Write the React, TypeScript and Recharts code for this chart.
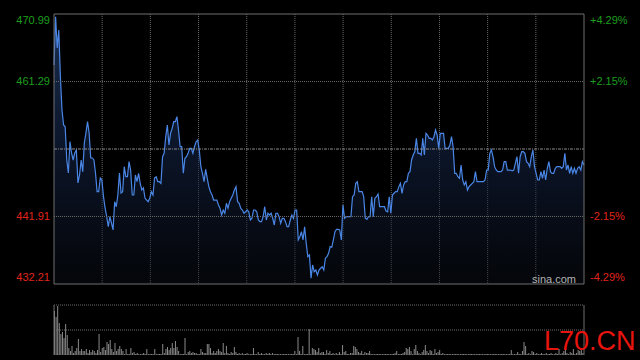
import React from 'react';
import {
  ComposedChart,
  Area,
  XAxis,
  YAxis,
  CartesianGrid,
  ReferenceLine,
  BarChart,
  Bar,
} from 'recharts';

// ---- data ----
const prevClose = 451.6;
const priceTicks = [432.21, 441.91, 461.29, 470.99];
const pctLabels = ['-4.29%', '-2.15%', '+2.15%', '+4.29%'];
const volMax = 50;

const pricesSeg1 = [
  463.67, 470.6, 466.11, 468.69, 461.98, 457.2, 455.05, 454.8, 450.02, 448.15,
  452.65, 451.03, 450.02, 451.03, 451.46, 446.72, 447.87, 450.02, 448.34, 452.46,
  453.9, 455.52, 453.9, 450.31, 450.31, 450.02, 448.15, 445.47, 445.47, 447.44,
  447.15, 444.75, 443.13, 441.88, 440.44, 441.88, 440.97, 439.97, 444.03, 443.31,
  444.99, 448.15, 445.28, 445.47, 449.06, 447.62, 447.62, 449.78, 448.58, 444.99,
  444.99, 447.87, 446.9, 448.11, 446.67, 445.71, 446.0, 444.56, 444.27, 444.03,
  444.56, 445.47, 444.99, 447.44, 447.62, 446.9, 446.9, 446.67, 450.49, 450.98,
  453.37, 455.05, 452.17, 453.85, 454.57, 455.52, 455.52, 456.24, 454.33, 451.93,
  451.93, 448.11, 450.26, 450.49,
];
const pricesSeg2 = [
  450.98, 451.7, 451.7, 450.98, 451.93, 452.65, 452.89, 451.46, 449.06, 448.11,
  446.9, 448.68, 447.39, 446.19, 445.47, 444.99, 444.27, 444.27, 444.27, 443.56,
  443.08, 442.12, 442.84, 442.37, 443.8, 443.08, 444.03, 444.52, 444.99, 445.71,
  446.19, 444.03, 443.8, 443.08, 442.84, 442.37, 442.59, 442.84, 442.59, 441.4,
  441.65, 442.84, 442.84, 442.59, 441.4, 441.16, 441.16, 441.88, 443.31, 441.4,
  442.37, 442.12, 442.37, 441.65, 440.68, 442.37, 442.37, 441.88, 440.93, 441.65,
  441.65, 441.16, 440.44, 440.44, 441.4, 442.12, 441.65, 442.84, 442.84, 438.53,
  439.0, 439.72, 438.53, 440.44, 438.06, 436.13, 436.38, 433.03, 434.94, 433.98,
  434.22, 433.5,
];
const pricesSeg3 = [
  434.22, 434.47, 434.7, 434.22, 435.9, 436.13, 436.62, 437.57, 437.48, 438.53,
  439.72, 440.07, 440.07, 439.97, 438.53, 443.56, 441.65, 441.88, 441.88, 441.88,
  441.88, 444.75, 444.99, 446.67, 446.9, 445.47, 445.47, 445.47, 444.75, 441.65,
  441.5, 441.88, 441.88, 444.75, 441.88, 444.52, 444.75, 445.14, 443.31, 443.31,
  443.31, 443.31, 442.7, 442.59, 444.75, 442.37, 444.99, 445.24, 445.47, 445.47,
  446.19, 446.67, 445.24, 446.43, 446.9, 446.9, 448.11, 448.34, 450.02, 450.74,
  451.21, 453.14, 450.98, 450.98, 450.74, 453.14, 450.74, 453.85, 453.61, 453.14,
  453.14, 452.89, 453.37, 454.33, 453.61, 451.7, 453.85, 453.85, 453.85, 451.7,
  451.7, 451.7,
];
const pricesSeg4 = [
  452.17, 453.37, 451.93, 448.11, 448.11, 447.62, 447.39, 449.3, 447.15, 446.43,
  446.9, 445.71, 446.19, 446.43, 446.67, 446.9, 448.34, 446.9, 446.9, 446.9,
  446.9, 446.9, 447.15, 448.58, 448.58, 450.98, 451.46, 450.49, 449.06, 448.58,
  448.34, 448.34, 448.34, 448.58, 449.78, 449.78, 448.58, 448.58, 448.58, 448.48,
  448.58, 449.55, 450.49, 448.11, 450.49, 451.21, 451.21, 450.98, 449.78, 449.55,
  449.06, 450.49, 451.46, 449.06, 448.11, 447.15, 447.15, 448.34, 447.39, 448.58,
  447.15, 448.83, 449.78, 448.34, 448.11, 448.11, 448.83, 449.06, 449.06, 449.06,
  448.83, 449.06, 450.98, 448.58, 449.3, 448.11, 449.06, 448.11, 448.83, 448.11,
  448.83, 449.06, 448.58, 449.78, 449.3,
];

const volumesAM = [
  44, 38, 49, 32, 21, 23, 17, 31, 20, 7, 4, 9, 2, 4, 7, 16, 4, 6, 4, 4,
  6, 2, 5, 3, 5, 4, 2, 5, 21, 3, 7, 8, 5, 13, 11, 15, 6, 3, 12, 4,
  6, 9, 6, 4, 1, 6, 1, 1, 7, 2, 3, 1, 2, 1, 1, 1, 2, 1, 6, 1,
  1, 1, 1, 6, 1, 1, 1, 1, 11, 2, 6, 8, 5, 7, 12, 7, 14, 8, 4, 1,
  1, 1, 17, 1, 3, 4, 2, 3, 2, 2, 1, 1, 6, 3, 2, 2, 11, 11, 7, 2,
  4, 2, 4, 6, 4, 3, 12, 2, 9, 2, 1, 3, 2, 8, 3, 1, 2, 1, 2, 1,
  1, 2, 1, 1, 1, 7, 1, 1, 3, 1, 2, 1, 1, 2, 1, 2, 1, 2, 1, 1,
  1, 1, 1, 1, 1, 1, 1, 1, 1, 1, 1, 4, 1, 18, 4, 1, 9, 1, 1, 1,
  26, 1, 7, 6, 5, 3,
];
const volumesPM = [
  7, 2, 3, 3, 1, 5, 2, 4, 1, 2, 1, 2, 1, 3, 1, 10, 3, 4, 1, 1,
  2, 2, 9, 8, 6, 3, 2, 4, 1, 3, 2, 2, 4, 1, 1, 1, 1, 1, 1, 1,
  1, 1, 1, 1, 1, 1, 1, 1, 2, 4, 1, 1, 1, 2, 3, 7, 6, 8, 4, 1,
  6, 10, 4, 2, 1, 3, 5, 10, 4, 2, 5, 4, 1, 6, 2, 3, 5, 1, 2, 1,
  1, 1, 1, 1, 1, 1, 1, 1, 1, 1, 1, 1, 1, 1, 1, 1, 1, 1, 1, 1,
  1, 1, 1, 1, 1, 1, 1, 1, 1, 1, 1, 1, 1, 1, 1, 1, 1, 1, 1, 1,
  1, 5, 1, 1, 1, 3, 1, 1, 4, 13, 9, 1, 2, 1, 4, 3, 1, 2, 1, 1,
  2, 1, 1, 2, 1, 1, 2, 1, 1, 2, 1, 6, 1, 2, 4, 7, 2, 1, 3, 2,
  6, 1, 2, 5, 4, 6, 2,
];

const prices = [...pricesSeg1, ...pricesSeg2, ...pricesSeg3, ...pricesSeg4];
const priceData = prices.map((p, i) => ({ i, p }));
const volumes = [...volumesAM, ...volumesPM];
const volData = volumes.map((v, i) => ({ i, v }));

// ---- styles ----
const GREEN = '#1c9e1c';
const RED = '#e0241c';
const FONT = '"Liberation Sans", Arial, sans-serif';
const FRAME = '#6e6e6e';
const GRID = '#6a6a6a';

const yMin = priceTicks[0];
const yMax = priceTicks[priceTicks.length - 1];

function LeftTick(props: any) {
  const { x, y, payload } = props;
  const v = payload.value as number;
  const dy = v === yMax ? 6 : v === yMin ? -7 : 0;
  return (
    <text
      x={x}
      y={y + dy}
      dy="0.36em"
      textAnchor="end"
      fill={v > prevClose ? GREEN : RED}
      fontSize={11}
      fontFamily={FONT}
    >
      {v.toFixed(2)}
    </text>
  );
}

function RightTick(props: any) {
  const { x, y, payload } = props;
  const v = payload.value as number;
  const dy = v === yMax ? 6 : v === yMin ? -7 : 0;
  const idx = priceTicks.indexOf(v);
  return (
    <text
      x={x}
      y={y + dy}
      dy="0.36em"
      textAnchor="start"
      fill={v > prevClose ? GREEN : RED}
      fontSize={11}
      fontFamily={FONT}
    >
      {pctLabels[idx]}
    </text>
  );
}

const vGen = (props: any) => {
  const off = props.offset;
  const out: number[] = [];
  for (let k = 1; k < 11; k++) out.push(off.left + (k * off.width) / 11);
  return out;
};

export default function App() {
  return (
    <div
      style={{
        position: 'absolute',
        left: 0,
        top: 0,
        width: 640,
        height: 360,
        background: '#000',
        overflow: 'hidden',
      }}
    >
      <div style={{ position: 'absolute', left: 0, top: 0 }}>
        <ComposedChart
          width={640}
          height={286}
          data={priceData}
          margin={{ top: 14, right: 0, bottom: 2, left: 0 }}
        >
          <defs>
            <linearGradient id="fillG" x1="0" y1="0" x2="0" y2="1">
              <stop offset="0%" stopColor="#24406e" stopOpacity={0.75} />
              <stop offset="45%" stopColor="#15264a" stopOpacity={0.6} />
              <stop offset="100%" stopColor="#0a0f1a" stopOpacity={0.4} />
            </linearGradient>
          </defs>
          <CartesianGrid
            horizontal={false}
            vertical
            stroke={GRID}
            strokeDasharray="1 1"
            verticalCoordinatesGenerator={vGen}
          />
          <XAxis dataKey="i" type="category" hide />
          <YAxis
            yAxisId="l"
            orientation="left"
            width={54}
            domain={[yMin, yMax]}
            ticks={priceTicks}
            allowDataOverflow
            axisLine={{ stroke: FRAME }}
            tickLine={false}
            tickSize={0}
            tickMargin={4}
            tick={<LeftTick />}
            interval={0}
          />
          <YAxis
            yAxisId="r"
            orientation="right"
            width={56}
            domain={[yMin, yMax]}
            ticks={priceTicks}
            allowDataOverflow
            axisLine={{ stroke: FRAME }}
            tickLine={false}
            tickSize={0}
            tickMargin={6}
            tick={<RightTick />}
            interval={0}
          />
          <Area
            yAxisId="l"
            type="linear"
            dataKey="p"
            stroke="#4a86e6"
            strokeWidth={1.2}
            fill="url(#fillG)"
            fillOpacity={1}
            isAnimationActive={false}
            dot={false}
            activeDot={false}
          />
          <ReferenceLine yAxisId="l" y={priceTicks[1]} stroke={GRID} strokeDasharray="1 1" />
          <ReferenceLine yAxisId="l" y={priceTicks[2]} stroke={GRID} strokeDasharray="1 1" />
          <ReferenceLine yAxisId="l" y={prevClose} stroke="#8c8c8c" strokeDasharray="3 1 1 1" />
          <ReferenceLine yAxisId="l" y={yMax} stroke={FRAME} />
          <ReferenceLine yAxisId="l" y={yMin} stroke={FRAME} />
        </ComposedChart>
      </div>

      <div style={{ position: 'absolute', left: 0, top: 304 }}>
        <BarChart
          width={640}
          height={51}
          data={volData}
          margin={{ top: 1, right: 0, bottom: 0, left: 0 }}
          barCategoryGap={0}
        >
          <XAxis dataKey="i" type="category" hide />
          <YAxis
            yAxisId="l"
            orientation="left"
            width={54}
            domain={[0, volMax]}
            tick={false}
            tickLine={false}
            axisLine={{ stroke: FRAME }}
          />
          <YAxis
            yAxisId="r"
            orientation="right"
            width={56}
            domain={[0, volMax]}
            tick={false}
            tickLine={false}
            axisLine={{ stroke: FRAME }}
          />
          <Bar
            yAxisId="l"
            dataKey="v"
            fill="#8a8a8a"
            barSize={1}
            isAnimationActive={false}
          />
          <ReferenceLine yAxisId="l" y={volMax} stroke={GRID} strokeDasharray="1 1" />
          <ReferenceLine yAxisId="l" y={volMax / 2} stroke={GRID} strokeDasharray="1 1" />
          <ReferenceLine yAxisId="l" y={0} stroke={GRID} strokeDasharray="1 1" />
        </BarChart>
      </div>

      <svg
        width={640}
        height={360}
        style={{ position: 'absolute', left: 0, top: 0, pointerEvents: 'none' }}
      >
        <text x={532} y={283} fill="#b4b4b4" fontSize={11} fontFamily={FONT}>
          sina.com
        </text>
        <text x={544} y={350} fill="#e8140e" fontSize={27} fontFamily={FONT}>
          L70.CN
        </text>
      </svg>
    </div>
  );
}
